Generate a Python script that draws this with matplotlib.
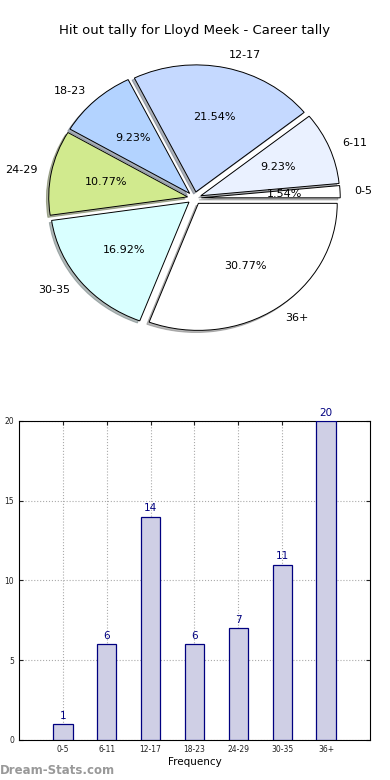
import matplotlib
matplotlib.use("Agg")
import matplotlib.pyplot as plt
import numpy as np

# data
categories = ["0-5", "6-11", "12-17", "18-23", "24-29", "30-35", "36+"]
tally = [1, 6, 14, 6, 7, 11, 20]
slice_colors = ["#FFFFFF", "#EAF1FF", "#C5D9FF", "#B3D3FF", "#D1EA8E", "#D9FFFF", "#FFFFFF"]
title = "Hit out tally for Lloyd Meek - Career tally"

fig = plt.figure(figsize=(3.9, 7.8), dpi=100)

# pie (left elliptical, like old matplotlib without axis('equal'))
ax1 = fig.add_axes([0.0, 0.518, 0.997, 0.456])
wedges, texts, autotexts = ax1.pie(
    tally, labels=categories, colors=slice_colors, explode=[0.05] * len(tally),
    autopct="%1.2f%%", shadow={"ox": -0.012, "oy": -0.012, "shade": 0.55},
    startangle=0, counterclock=True,
    wedgeprops=dict(edgecolor="black", linewidth=0.7),
    textprops=dict(fontsize=8))
ax1.set_aspect("auto")
ax1.set_xlim(-1.4, 1.4)
ax1.set_ylim(-1.4, 1.4)
ax1.axis("off")
fig.text(0.5, 0.961, title, ha="center", va="center", fontsize=9.5)

# bar chart
ax2 = fig.add_axes([0.0487, 0.0513, 0.9, 0.409])
x = np.arange(len(categories))
ax2.bar(x, tally, width=0.44, color="#CFCFE5", edgecolor="#000080", linewidth=0.9, zorder=3)
for xi, v in zip(x, tally):
    ax2.text(xi, v + 0.2, str(v), ha="center", va="bottom", color="#000080", fontsize=7.5)
ax2.set_xlim(-1, 7)
ax2.set_ylim(0, 20)
ax2.set_xticks(x)
ax2.set_xticklabels(categories)
ax2.set_yticks([0, 5, 10, 15, 20])
ax2.tick_params(labelsize=5.5, direction="in", top=True, right=True, length=3,
                colors="#222222", labelcolor="#222222")
ax2.grid(True, linestyle=":", color="#AAAAAA", linewidth=0.8, zorder=0)
ax2.set_xlabel("Frequency", fontsize=7.5, labelpad=2)
ax2.set_ylabel("Stat Total Tally", fontsize=7.5)

fig.text(0.0, 0.012, "Dream-Stats.com", fontsize=8.5, color="#999999",
         fontweight="bold", ha="left", va="center")

plt.savefig("out.png", dpi=100)
